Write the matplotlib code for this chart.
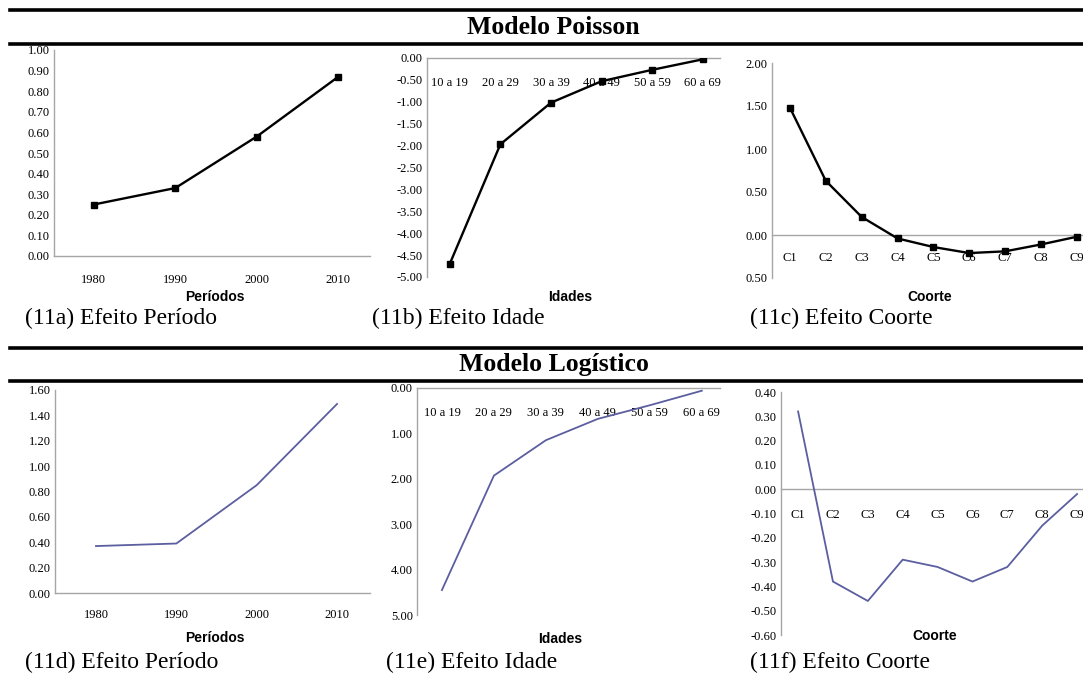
import numpy as np
import matplotlib
matplotlib.use("Agg")
from matplotlib import pyplot as plt
from matplotlib.ticker import FuncFormatter

# dados
periodos = ['1980', '1990', '2000', '2010']
idades = ['10 a 19', '20 a 29', '30 a 39', '40 a 49', '50 a 59', '60 a 69']
coortes = ['C1', 'C2', 'C3', 'C4', 'C5', 'C6', 'C7', 'C8', 'C9']

poisson_periodo = [0.25, 0.33, 0.58, 0.87]
poisson_idade = [-4.70, -1.97, -1.02, -0.53, -0.27, -0.03]
poisson_coorte = [1.48, 0.63, 0.21, -0.04, -0.14, -0.21, -0.19, -0.11, -0.02]

logit_periodo = [0.37, 0.39, 0.85, 1.49]
logit_idade = [-4.45, -1.93, -1.15, -0.68, -0.38, -0.06]
logit_coorte = [0.32, -0.38, -0.46, -0.29, -0.32, -0.38, -0.32, -0.15, -0.02]

W, H = 1083, 678
fig = plt.figure(figsize=(W / 100, H / 100), dpi=100)
fig.patch.set_facecolor('white')

serif = 'Liberation Serif'
narrow = ['Liberation Sans Narrow', 'Liberation Sans']
gray = '#A6A6A6'
blue = '#5B5E9F'


def px_axes(l, t, r, b):
    return fig.add_axes([l / W, 1 - b / H, (r - l) / W, (b - t) / H])


def fmt(v, pos):
    return '%.2f' % (round(v, 2) + 0.0)


def fmt_abs(v, pos):
    return '%.2f' % abs(round(v, 2))


def painel(rect, cats, vals, xlim, ylim, step, xpad, poisson, formatter=fmt):
    ax = px_axes(*rect)
    x = np.arange(len(cats))
    if poisson:
        ax.plot(x, vals, color='black', lw=1.7, marker='s', ms=5, zorder=3)
    else:
        ax.plot(x, vals, color=blue, lw=1.3, zorder=3)
    ax.set_xlim(*xlim)
    ax.set_ylim(*ylim)
    ax.set_yticks(np.arange(ylim[0], ylim[1] + step / 2, step))
    ax.yaxis.set_major_formatter(FuncFormatter(formatter))
    ax.set_xticks(x)
    ax.set_xticklabels(cats)
    for s in ['top', 'right']:
        ax.spines[s].set_visible(False)
    ax.spines['left'].set_color(gray)
    ax.spines['left'].set_linewidth(1.0)
    ax.spines['bottom'].set_color(gray)
    ax.spines['bottom'].set_linewidth(1.0)
    ax.spines['bottom'].set_position(('data', 0))
    ax.tick_params(axis='y', length=0, pad=3, labelsize=9)
    ax.tick_params(axis='x', length=0, pad=xpad, labelsize=9)
    for lab in ax.get_xticklabels() + ax.get_yticklabels():
        lab.set_fontfamily(serif)
    ax.set_facecolor('none')
    return ax


# regras horizontais e titulos
for y in [10, 44, 348, 381]:
    fig.add_artist(plt.Line2D([10 / W, 1], [1 - y / H, 1 - y / H], color='black', lw=2.6))

fig.text(553 / W, 1 - 27 / H, 'Modelo Poisson', ha='center', va='center',
         fontsize=18.5, fontweight='bold', family=serif)
fig.text(554 / W, 1 - 365 / H, 'Modelo Logístico', ha='center', va='center',
         fontsize=18.5, fontweight='bold', family=serif)

# Modelo Poisson
painel((54, 50, 370, 256), periodos, poisson_periodo, (-0.49, 3.39), (0, 1.0), 0.1, 13, True)
painel((427, 58, 720, 277), idades, poisson_idade, (-0.45, 5.34), (-5, 0), 0.5, 14, True)
painel((772, 63, 1083, 278), coortes, poisson_coorte, (-0.5, 8.17), (-0.5, 2.0), 0.5, 12, True, fmt_abs)

# Modelo Logistico
painel((55, 390, 370, 593), periodos, logit_periodo, (-0.51, 3.41), (0, 1.6), 0.2, 11.5, False)
painel((417, 388, 720, 615), idades, logit_idade, (-0.48, 5.35), (-5, 0), 1.0, 14, False, fmt_abs)
painel((781, 392, 1083, 635), coortes, logit_coorte, (-0.49, 8.17), (-0.6, 0.4), 0.1, 14, False)

# rotulos dos eixos
eixos = [('Períodos', 215, 297), ('Idades', 570, 297), ('Coorte', 930, 297),
         ('Períodos', 215, 638), ('Idades', 560, 639), ('Coorte', 935, 636)]
for txt, x, y in eixos:
    fig.text(x / W, 1 - y / H, txt, ha='center', va='center', fontsize=10,
             fontweight='bold', family=narrow)

# legendas dos paineis
legendas = [('(11a) Efeito Período', 25, 318), ('(11b) Efeito Idade', 372, 318),
            ('(11c) Efeito Coorte', 750, 318), ('(11d) Efeito Período', 25, 662),
            ('(11e) Efeito Idade', 386, 662), ('(11f) Efeito Coorte', 750, 662)]
for txt, x, y in legendas:
    fig.text(x / W, 1 - y / H, txt, ha='left', va='center', fontsize=17, family=serif)

fig.savefig('out.png', dpi=100, facecolor='white')
